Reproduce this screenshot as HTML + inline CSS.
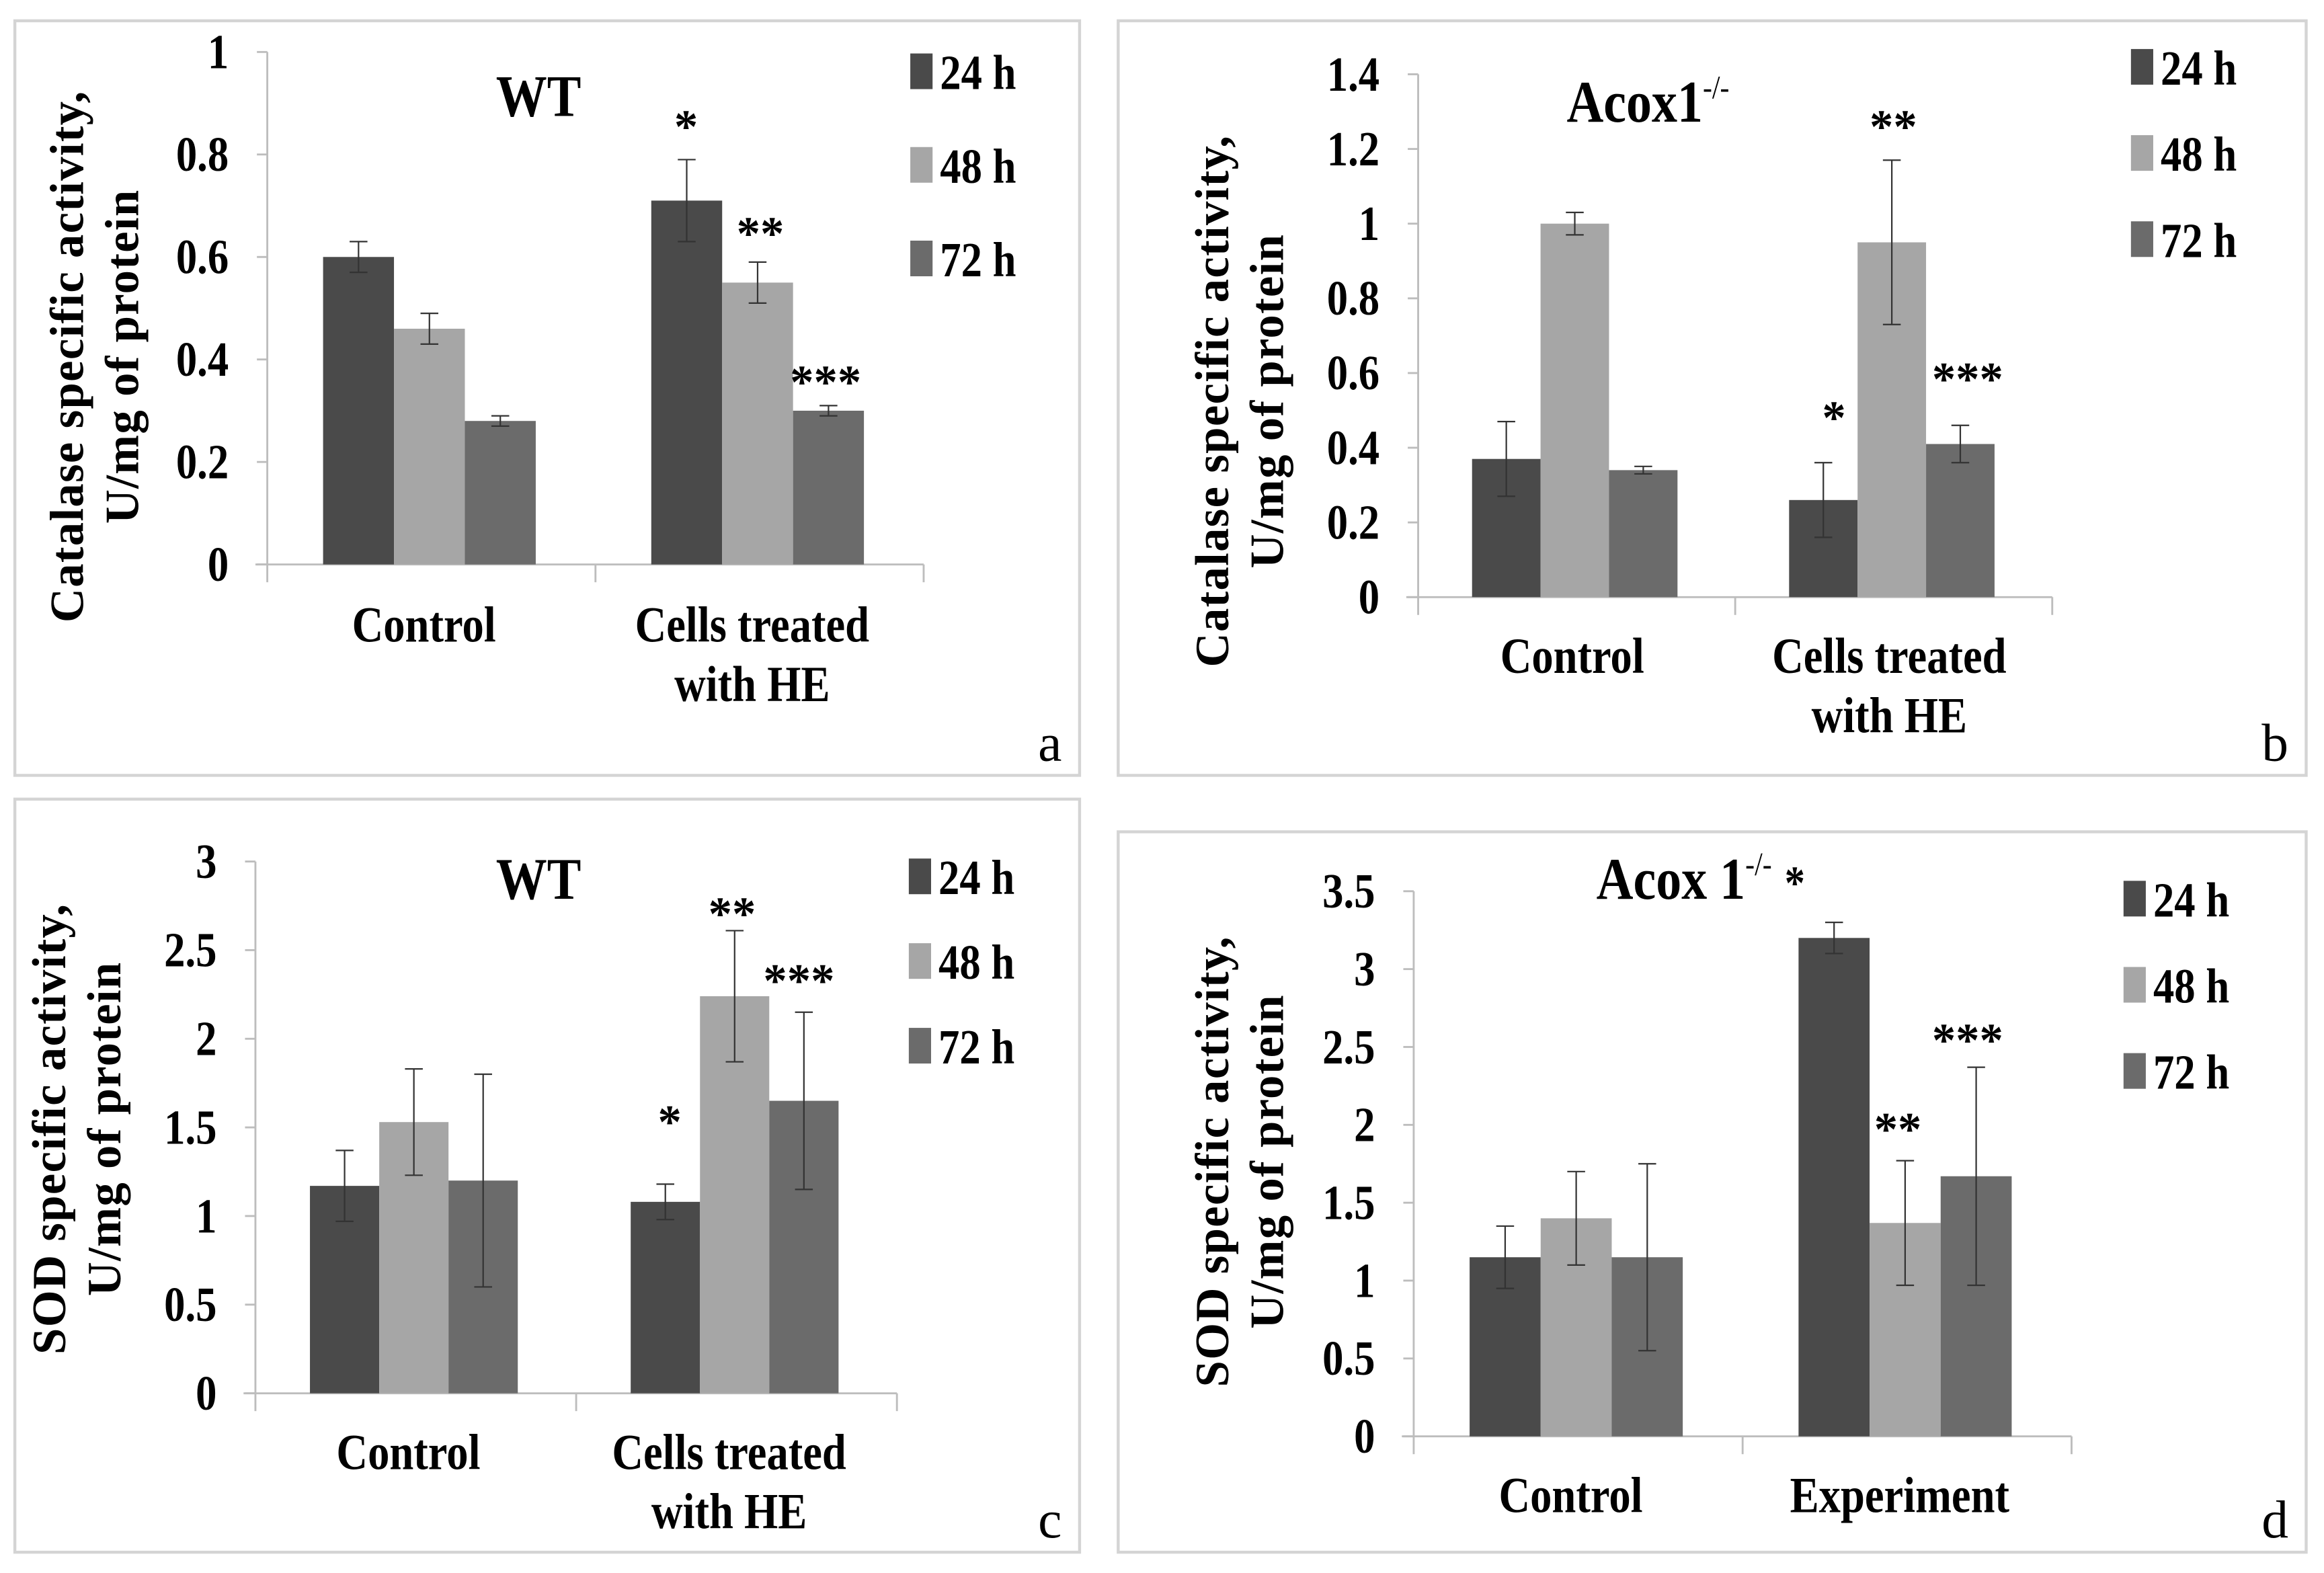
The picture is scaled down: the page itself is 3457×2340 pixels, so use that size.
<!DOCTYPE html>
<html><head><meta charset="utf-8"><style>
html,body{margin:0;padding:0;background:#fff;}
svg{display:block;}
text{font-family:"Liberation Serif",serif;font-weight:bold;fill:#000;}
text.norm{font-weight:normal;}
</style></head><body>
<svg id="fig" width="3457" height="2340" viewBox="0 0 1565 1059" preserveAspectRatio="none" xmlns="http://www.w3.org/2000/svg"></svg>
<script>
const series = ["24 h","48 h","72 h"];
const colors = ["#4a4a4a","#a6a6a6","#6b6b6b"];
const catsAB = ["Control","Cells treated|with HE"];
const catsD = ["Control","Experiment"];
// panel a
const aVals = [[0.60,0.71],[0.46,0.55],[0.28,0.30]];
const aErr  = [[0.03,0.08],[0.03,0.04],[0.01,0.01]];
const aTicks = ["0","0.2","0.4","0.6","0.8","1"];
// panel b
const bVals = [[0.37,0.26],[1.00,0.95],[0.34,0.41]];
const bErr  = [[0.10,0.10],[0.03,0.22],[0.01,0.05]];
const bTicks = ["0","0.2","0.4","0.6","0.8","1","1.2","1.4"];
// panel c
const cVals = [[1.17,1.08],[1.53,2.24],[1.20,1.65]];
const cErr  = [[0.20,0.10],[0.30,0.37],[0.60,0.50]];
const cTicks = ["0","0.5","1","1.5","2","2.5","3"];
// panel d
const dVals = [[1.15,3.20],[1.40,1.37],[1.15,1.67]];
const dErr  = [[0.20,0.10],[0.30,0.40],[0.60,0.70]];
const dTicks = ["0","0.5","1","1.5","2","2.5","3","3.5"];

const NS="http://www.w3.org/2000/svg";
const svg=document.getElementById('fig');
function el(tag,attrs,parent){const e=document.createElementNS(NS,tag);for(const k in attrs)e.setAttribute(k,attrs[k]);(parent||svg).appendChild(e);return e;}
function txt(g,x,y,s,size,anchor,sx){const t=el('text',{transform:`translate(${x},${y}) scale(${sx||0.86},1)`,'font-size':size,'text-anchor':anchor||'middle'},g);t.textContent=s;return t;}

function panel(cfg){
  const g=el('g',{});
  
  
  const box=el('rect',{x:cfg.box[0],y:cfg.box[1],width:cfg.box[2]-cfg.box[0],height:cfg.box[3]-cfg.box[1],fill:'#fff',stroke:'#d4d4d4','stroke-width':2},g);
  
  
  const ticks=cfg.ticks, max=parseFloat(ticks[ticks.length-1]);
  const y=v=>cfg.y0-(v/max)*(cfg.y0-cfg.yTop);
  const ax=cfg.ax, gw=(cfg.xEnd-ax)/2;
  const yl=el('line',{x1:ax,y1:cfg.yTop,x2:ax,y2:cfg.y0,stroke:'#bdbdbd','stroke-width':1.3},g);
  
  
  const xl=el('line',{x1:ax-8,y1:cfg.y0,x2:cfg.xEnd,y2:cfg.y0,stroke:'#bdbdbd','stroke-width':1.3},g);
  
  
  for(let i=0;i<=2;i++){el('line',{x1:ax+i*gw,y1:cfg.y0,x2:ax+i*gw,y2:cfg.y0+12,stroke:'#bdbdbd','stroke-width':1.3},g);}
  ticks.forEach(t=>{
    const v=parseFloat(t);
    el('line',{x1:ax-7,y1:y(v),x2:ax,y2:y(v),stroke:'#bdbdbd','stroke-width':1.3},g);
    const tl=txt(g,ax-26,y(v)+11,t,33,'end');
    
    
  });
  const bw=gw*0.216, off=gw*0.17;
  for(let s=0;s<3;s++)for(let c=0;c<2;c++){
    const v=cfg.vals[s][c], e=cfg.err[s][c];
    const bx=ax+c*gw+off+s*bw;
    const r=el('rect',{x:bx,y:y(v),width:bw,height:cfg.y0-y(v),fill:colors[s]},g);
    
    
    const cx=bx+bw/2;
    const eb=el('path',{d:`M${cx},${y(v+e)}V${y(v-e)}M${cx-6},${y(v+e)}H${cx+6}M${cx-6},${y(v-e)}H${cx+6}`,stroke:'#333','stroke-width':1,fill:'none'},g);
    
    
  }
  cfg.cats.forEach((c,i)=>{
    const lines=c.split('|');
    lines.forEach((l,j)=>{
      const t=txt(g,ax+gw*(i+0.5)+cfg.catDx,cfg.catY+j*40,l,34,'middle');
      
      
    });
  });
  const yt=el('text',{transform:`translate(${cfg.ytX},${cfg.ytY}) rotate(-90)`,'font-size':32,'text-anchor':'middle','letter-spacing':'0.6'},g);
  
  
  const t1=el('tspan',{x:0,y:0},yt);t1.textContent=cfg.yTitle[0];
  const t2=el('tspan',{x:0,y:37},yt);t2.textContent=cfg.yTitle[1];
  const tt=txt(g,cfg.titleX,cfg.titleY,'',40,'start');
  
  
  tt.textContent=cfg.title;
  if(cfg.sup){const sp=el('tspan',{'font-size':22,dy:-16,style:'font-weight:normal'},tt);sp.textContent=cfg.sup;}
  if(cfg.titleStar){const sp=el('tspan',{'font-size':32,dy:16,dx:10},tt);sp.textContent=cfg.titleStar;}
  series.forEach((s,i)=>{
    const ly=cfg.legY+i*cfg.legDy;
    const sq=el('rect',{x:cfg.legX,y:ly-12,width:15,height:24,fill:colors[i]},g);
    
    
    const lt=txt(g,cfg.legX+20,ly+12,s,33,'start');
    
    
  });
  cfg.stars.forEach(st=>{
    const t=el('text',{x:st[0],y:st[1],'font-size':32,'text-anchor':'middle'},g);
    t.textContent=st[2];
    
    
  });
  const pl=el('text',{x:cfg.box[2]-12,y:cfg.box[3]-10,'font-size':36,'text-anchor':'end',class:'norm'},g);
  pl.textContent=cfg.letter;
  
  
}

panel({name:'panel-a',box:[10,14,727,522],ax:180,xEnd:622,y0:380,yTop:35,ticks:aTicks,vals:aVals,err:aErr,cats:catsAB,catDx:-5,catY:432,
  ytX:56,ytY:240,yTitle:['Catalase specific activity,','U/mg of protein'],title:'WT',titleX:334,titleY:78,
  legX:613,legY:48,legDy:63,stars:[[462,96,'*'],[512,168,'**'],[556,268,'***']],letter:'a'});
panel({name:'panel-b',box:[753,14,1553,522],ax:955,xEnd:1382,y0:402,yTop:50,ticks:bTicks,vals:bVals,err:bErr,cats:catsAB,catDx:-3,catY:453,
  ytX:827,ytY:270,yTitle:['Catalase specific activity,','U/mg of protein'],title:'Acox1',sup:'-/-',titleX:1055,titleY:82,
  legX:1435,legY:45,legDy:58,stars:[[1235,292,'*'],[1275,96,'**'],[1325,266,'***']],letter:'b'});
panel({name:'panel-c',box:[10,538,727,1045],ax:172,xEnd:604,y0:938,yTop:580,ticks:cTicks,vals:cVals,err:cErr,cats:catsAB,catDx:-5,catY:989,
  ytX:44,ytY:760,yTitle:['SOD specific activity,','U/mg of protein'],title:'WT',titleX:334,titleY:605,
  legX:612,legY:590,legDy:57,stars:[[451,766,'*'],[493,626,'**'],[538,671,'***']],letter:'c'});
panel({name:'panel-d',box:[753,560,1553,1045],ax:952,xEnd:1395,y0:967,yTop:600,ticks:dTicks,vals:dVals,err:dErr,cats:catsD,catDx:-5,catY:1018,
  ytX:827,ytY:782,yTitle:['SOD specific activity,','U/mg of protein'],title:'Acox 1',sup:'-/-',titleStar:'*',titleX:1075,titleY:605,
  legX:1430,legY:605,legDy:58,stars:[[1278,771,'**'],[1325,711,'***']],letter:'d'});
</script>
</body></html>
